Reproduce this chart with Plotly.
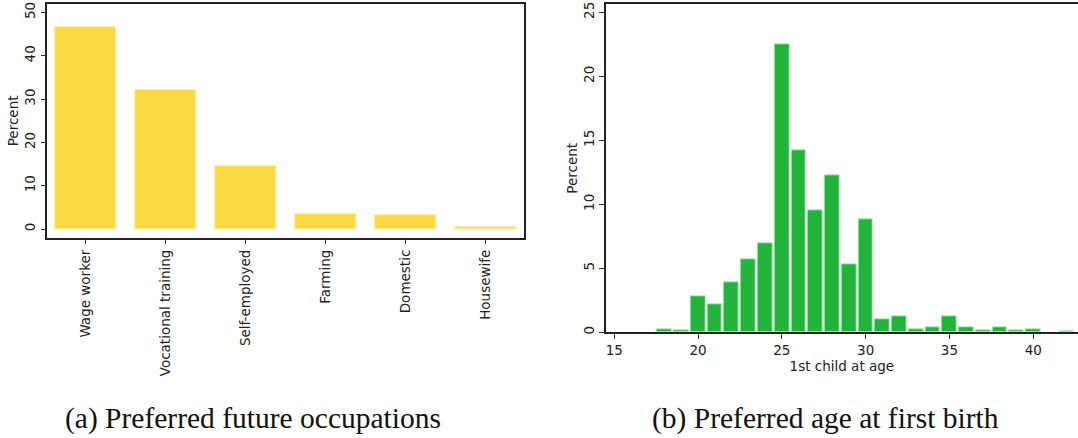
import plotly.graph_objects as go

# Panel (a): preferred future occupations
occupations = ["Wage worker", "Vocational training", "Self-employed", "Farming", "Domestic", "Housewife"]
occ_percent = [46.7, 32.1, 14.6, 3.3, 3.1, 0.4]

# Panel (b): preferred age at first birth
ages = [18, 19, 20, 21, 22, 23, 24, 25, 26, 27, 28, 29, 30, 31, 32, 33, 34, 35, 36, 37, 38, 39, 40, 42]
age_percent = [0.21, 0.16, 2.84, 2.16, 3.93, 5.70, 6.95, 22.53, 14.22, 9.56, 12.24, 5.34, 8.83,
               1.02, 1.28, 0.21, 0.39, 1.28, 0.39, 0.16, 0.42, 0.16, 0.21, 0.08]

caption_a = "(a) Preferred future occupations"
caption_b = "(b) Preferred age at first birth"

W, H = 1078, 438
FONT = "DejaVu Sans"
TXT = "#222222"
FS = 13.5

fig = go.Figure()
fig.add_trace(go.Bar(
    x=occupations, y=occ_percent, xaxis="x", yaxis="y",
    marker=dict(color="#fcd843", line=dict(color="#fde98f", width=1)),
    width=0.76, showlegend=False,
))
fig.add_trace(go.Bar(
    x=ages, y=age_percent, xaxis="x2", yaxis="y2",
    marker=dict(color="#21b33b", line=dict(color="#b8e8c0", width=1)),
    width=0.88, showlegend=False,
))

axis_common = dict(
    showgrid=False, zeroline=False, showline=True, linecolor="#222222", linewidth=1.5,
    ticks="outside", ticklen=5, tickcolor="#333333", tickwidth=1.2,
    tickfont=dict(family=FONT, size=FS, color=TXT), automargin=False,
)

fig.update_layout(
    width=W, height=H,
    margin=dict(l=0, r=0, t=0, b=0, pad=0),
    paper_bgcolor="white", plot_bgcolor="white",
    bargap=0,
    xaxis=dict(axis_common, domain=[47.3 / W, 524 / W], anchor="y", mirror=True,
               type="category", range=[-0.484, 5.479], tickangle=-90),
    yaxis=dict(axis_common, domain=[1 - 237.5 / H, 1 - 4.3 / H], anchor="x", mirror=True,
               range=[-1.96, 51.9], tickvals=[0, 10, 20, 30, 40, 50], tickangle=-90,
               title=dict(text="Percent", font=dict(family=FONT, size=FS, color=TXT), standoff=0)),
    xaxis2=dict(axis_common, domain=[605.7 / W, 1.0], anchor="y2", mirror=True,
                range=[14.49, 42.67], tickvals=[15, 20, 25, 30, 35, 40],
                title=dict(text="1st child at age", font=dict(family=FONT, size=FS, color=TXT), standoff=0)),
    yaxis2=dict(axis_common, domain=[1 - 332.3 / H, 1 - 4.3 / H], anchor="x2", mirror=False,
                range=[0, 25.63], tickvals=[0, 5, 10, 15, 20, 25], tickangle=-90,
                title=dict(text="Percent", font=dict(family=FONT, size=FS, color=TXT), standoff=0)),
    annotations=[
        dict(text=caption_a, x=253 / W, y=1 - 418 / H, xref="paper", yref="paper",
             showarrow=False, font=dict(family="Liberation Serif", size=29.5, color="#111111"),
             xanchor="center", yanchor="middle"),
        dict(text=caption_b, x=825 / W, y=1 - 418 / H, xref="paper", yref="paper",
             showarrow=False, font=dict(family="Liberation Serif", size=29.5, color="#111111"),
             xanchor="center", yanchor="middle"),
    ],
)

fig.write_html("out.html", config={"displayModeBar": False},
               post_script="document.body.style.margin='0';document.body.style.padding='0';")
